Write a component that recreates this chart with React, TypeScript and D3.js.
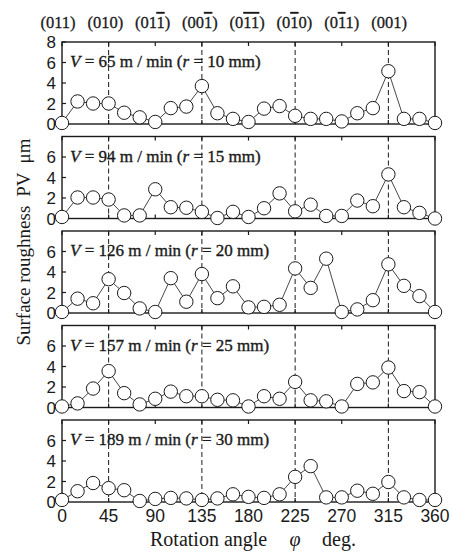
import React from "react";
import * as d3 from "d3";

// ---- data ----
const angles = [0, 15, 30, 45, 60, 75, 90, 105, 120, 135, 150, 165, 180, 195, 210, 225, 240, 255, 270, 285, 300, 315, 330, 345, 360];
const speeds = [65, 94, 126, 157, 189];
const radii = [10, 15, 20, 25, 30];
const pv65 = [0.1, 2.2, 2.0, 2.0, 1.1, 0.65, 0.2, 1.55, 1.7, 3.7, 1.05, 0.5, 0.2, 1.5, 1.75, 0.8, 0.5, 0.5, 0.25, 1.05, 1.55, 5.15, 0.5, 0.5, 0.1];
const pv94 = [0.15, 2.05, 2.05, 1.85, 0.3, 0.3, 2.85, 1.1, 1.05, 0.65, 0.05, 0.65, 0.15, 1.0, 2.45, 0.7, 1.35, 0.25, 0.25, 1.75, 1.2, 4.3, 1.1, 0.55, 0.0];
const pv126 = [0.1, 1.4, 0.95, 3.3, 1.95, 0.45, 0.1, 3.4, 1.1, 3.8, 1.45, 2.6, 0.55, 0.6, 0.8, 4.35, 2.45, 5.3, 0.1, 0.35, 1.25, 4.75, 2.65, 1.65, 0.1];
const pv157 = [0.1, 0.4, 1.85, 3.55, 1.4, 0.3, 0.85, 1.55, 1.1, 1.1, 0.75, 0.7, 0.1, 1.1, 0.85, 2.5, 0.7, 0.6, 0.1, 2.3, 2.45, 3.9, 1.6, 1.5, 0.1];
const pv189 = [0.2, 1.05, 1.85, 1.35, 1.15, 0.1, 0.3, 0.4, 0.35, 0.2, 0.35, 0.75, 0.5, 0.4, 0.75, 2.45, 3.5, 0.45, 0.45, 1.1, 0.8, 1.95, 0.45, 0.2, 0.2];
const series = [pv65, pv94, pv126, pv157, pv189];
const xTicks = [0, 45, 90, 135, 180, 225, 270, 315, 360];
const dashedAngles = [45, 135, 225, 315];
const yTicksFirst = [0, 2, 4, 6, 8];
const yTicksOther = [0, 2, 4, 6];
// Miller index labels: "-1" means overlined 1
const planeLabels = [
  ["0", "1", "1"],
  ["0", "1", "0"],
  ["0", "1", "-1"],
  ["0", "0", "-1"],
  ["0", "-1", "-1"],
  ["0", "-1", "0"],
  ["0", "-1", "1"],
  ["0", "0", "1"],
];

const W = 452;
const H = 552;
const xL = 62;
const xR = 435;
const panelH = 82;
const panelStep = 94.5;
const top0 = 42;

export default function App() {
  const x = d3.scaleLinear().domain([0, 360]).range([xL, xR]);
  const labelX = d3
    .scalePoint<number>()
    .domain(planeLabels.map((_, i) => i))
    .range([58, 389]);
  const ink = "#1a1a1a";
  const serif = "'Liberation Serif', 'Times New Roman', serif";
  const sans = "'Liberation Sans', Arial, sans-serif";

  return (
    <svg
      width={W}
      height={H}
      style={{ position: "absolute", left: 0, top: 0, background: "#fff" }}
    >
      {/* plane labels on top */}
      {planeLabels.map((lab, i) => (
        <text
          key={"pl" + i}
          x={labelX(i)}
          y={28}
          textAnchor="middle"
          fontSize={16.5}
          fontFamily={serif}
          fill={ink}
          stroke={ink}
          strokeWidth={0.3}
        >
          <tspan>(</tspan>
          {lab.map((d, j) => (
            <tspan
              key={j}
              style={d.startsWith("-") ? { textDecoration: "overline" } : undefined}
            >
              {d.replace("-", "")}
            </tspan>
          ))}
          <tspan>)</tspan>
        </text>
      ))}

      {series.map((vals, i) => {
        const top = top0 + i * panelStep;
        const y = d3.scaleLinear().domain([0, 8]).range([top + panelH, top]);
        const line = d3
          .line<number>()
          .x((_, k) => x(angles[k]))
          .y((v) => y(v));
        const yt = i === 0 ? yTicksFirst : yTicksOther;
        return (
          <g key={"p" + i}>
            {/* dashed verticals */}
            {dashedAngles.map((a) => (
              <line
                key={"d" + a}
                x1={x(a)}
                x2={x(a)}
                y1={top}
                y2={top + panelH}
                stroke={ink}
                strokeWidth={1}
                strokeDasharray="5,3"
              />
            ))}
            {/* frame */}
            <rect
              x={xL}
              y={top}
              width={xR - xL}
              height={panelH}
              fill="none"
              stroke={ink}
              strokeWidth={1.4}
            />
            {/* left ticks */}
            {yt.map((t) => (
              <g key={"yt" + t}>
                <line x1={xL} x2={xL + 4} y1={y(t)} y2={y(t)} stroke={ink} strokeWidth={1.2} />
                <text
                  x={xL - 6}
                  y={y(t)}
                  dy="0.36em"
                  textAnchor="end"
                  fontSize={17}
                  fontFamily={sans}
                  fill={ink}
                >
                  {t}
                </text>
              </g>
            ))}
            {/* top / bottom ticks */}
            {xTicks.map((t) => (
              <g key={"xt" + t}>
                <line x1={x(t)} x2={x(t)} y1={top + panelH} y2={top + panelH - 4} stroke={ink} strokeWidth={1.2} />
                <line x1={x(t)} x2={x(t)} y1={top} y2={top + 4} stroke={ink} strokeWidth={1.2} />
              </g>
            ))}
            {/* panel label */}
            <text
              x={xL + 8}
              y={y(5.55)}
              fontSize={17}
              fontFamily={serif}
              fill={ink}
              stroke={ink}
              strokeWidth={0.35}
            >
              <tspan fontStyle="italic">V</tspan>
              {` = ${speeds[i]} m / min (`}
              <tspan fontStyle="italic">r</tspan>
              {` = ${radii[i]} mm)`}
            </text>
            {/* line */}
            <path d={line(vals) || ""} fill="none" stroke="#333" strokeWidth={0.9} />
            {/* markers */}
            {vals.map((v, k) => (
              <circle
                key={"c" + k}
                cx={x(angles[k])}
                cy={y(v)}
                r={6.7}
                fill="#fff"
                stroke={ink}
                strokeWidth={1}
              />
            ))}
            {/* x tick labels on bottom panel */}
            {i === series.length - 1 &&
              xTicks.map((t) => (
                <text
                  key={"xl" + t}
                  x={x(t)}
                  y={top + panelH + 20}
                  textAnchor="middle"
                  fontSize={17.5}
                  fontFamily={sans}
                  fill={ink}
                >
                  {t}
                </text>
              ))}
          </g>
        );
      })}

      {/* x axis title */}
      <text x={150} y={546} fontSize={20} fontFamily={serif} fill={ink}>
        {"Rotation angle"}
      </text>
      <text x={295} y={546} textAnchor="middle" fontSize={20} fontStyle="italic" fontFamily={serif} fill={ink}>
        φ
      </text>
      <text x={322} y={546} fontSize={20} fontFamily={serif} fill={ink}>
        {"deg."}
      </text>

      {/* y axis title */}
      <text
        transform={`translate(30,242) rotate(-90)`}
        textAnchor="middle"
        fontSize={19}
        fontFamily={serif}
        fill={ink}
      >
        <tspan>Surface roughness</tspan>
        <tspan dx={9}>PV</tspan>
        <tspan dx={9}>μm</tspan>
      </text>
    </svg>
  );
}
